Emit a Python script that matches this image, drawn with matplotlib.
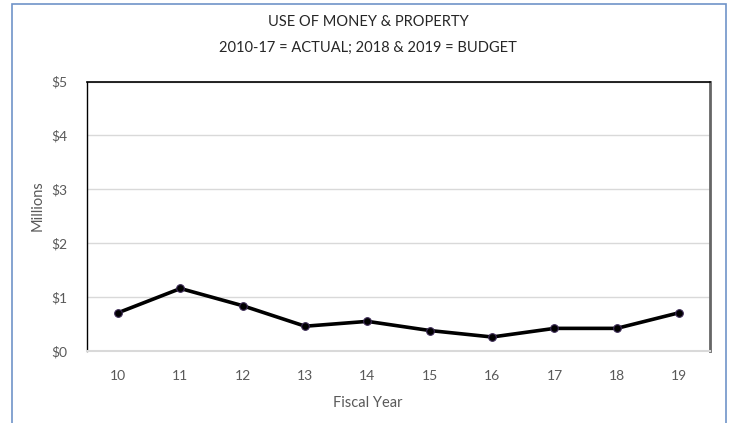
import numpy as np
import matplotlib
matplotlib.use("Agg")
import matplotlib.pyplot as plt
from matplotlib.patches import Rectangle

plt.rcParams["font.family"] = ["Lato", "DejaVu Sans"]

FIG_SIZE = (7.29, 4.23)
LABEL_GREY = "#595959"
GRID_GREY = "#d9d9d9"

fiscalYears = ["10", "11", "12", "13", "14", "15", "16", "17", "18", "19"]
millions = [0.71, 1.16, 0.84, 0.46, 0.55, 0.38, 0.26, 0.42, 0.42, 0.71]
yTicks = [0, 1, 2, 3, 4, 5]
yTickLabels = ["$0", "$1", "$2", "$3", "$4", "$5"]

fig = plt.figure(figsize=FIG_SIZE, dpi=100)
ax = fig.add_axes([0.1193, 0.1702, 0.855, 0.637])

positions = np.arange(len(fiscalYears))
ax.plot(
    positions,
    millions,
    color="black",
    linewidth=2.6,
    marker="o",
    markersize=5.5,
    markerfacecolor="black",
    markeredgecolor="#3d2b56",
    markeredgewidth=0.8,
    zorder=3,
)

ax.set_xlim(-0.5, len(fiscalYears) - 0.5)
ax.set_ylim(0, 5)
ax.set_xticks(positions)
ax.set_xticklabels(fiscalYears)
ax.set_yticks(yTicks)
ax.set_yticklabels(yTickLabels)
ax.tick_params(axis="both", length=0, labelsize=10, labelcolor=LABEL_GREY)
ax.tick_params(axis="y", pad=14)
ax.tick_params(axis="x", pad=14)

ax.yaxis.grid(True, color=GRID_GREY, linewidth=1)
ax.set_axisbelow(True)

ax.spines["left"].set_color("black")
ax.spines["left"].set_linewidth(1)
ax.spines["top"].set_color("black")
ax.spines["top"].set_linewidth(1.2)
ax.spines["right"].set_color("#666666")
ax.spines["right"].set_linewidth(2)
ax.spines["bottom"].set_color(GRID_GREY)
ax.spines["bottom"].set_linewidth(1.5)

# axis titles placed in figure pixels
fig.text(38 / 729, 1 - 206 / 423, "Millions", rotation=90, ha="center",
         va="center", fontsize=10.5, color=LABEL_GREY)
fig.text(368 / 729, 1 - 403 / 423, "Fiscal Year", ha="center", va="center",
         fontsize=10.5, color=LABEL_GREY)

fig.text(0.505, 0.948, "USE OF MONEY & PROPERTY", ha="center", va="center",
         fontsize=10.5, color="#262626")
fig.text(0.505, 0.886, "2010-17 = ACTUAL; 2018 & 2019 = BUDGET", ha="center",
         va="center", fontsize=10.5, color="#262626")

# chart area border
frame = Rectangle((11.7 / 729, -0.1), (726 - 11.7) / 729, 1.1 - 4 / 423,
                  transform=fig.transFigure, fill=False,
                  edgecolor="#6f93c8", linewidth=1.2, clip_on=False)
fig.patches.append(frame)

fig.savefig("out.png", dpi=100)
